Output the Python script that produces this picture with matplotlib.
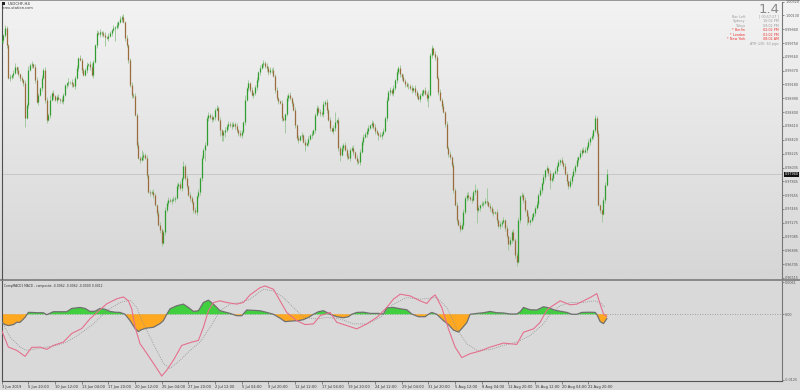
import matplotlib.pyplot as plt
import numpy as np
from matplotlib.colors import LinearSegmentedColormap
from matplotlib.patches import Rectangle
import matplotlib.transforms as mtransforms

# USDCHF H4 closes, 3 Jun 2019 04:00 onwards (one value per bar)
closes = [
    0.9979, 0.9986, 0.9996, 0.9972, 0.9927, 0.9928, 0.9931, 0.9934, 0.9942, 0.9938, 0.9932, 0.9927,
    0.9924, 0.9920, 0.9872, 0.9890, 0.9938, 0.9945, 0.9946, 0.9942, 0.9924, 0.9894, 0.9904, 0.9913,
    0.9927, 0.9938, 0.9897, 0.9869, 0.9876, 0.9897, 0.9906, 0.9902, 0.9897, 0.9901, 0.9898, 0.9897,
    0.9895, 0.9904, 0.9917, 0.9920, 0.9921, 0.9921, 0.9919, 0.9916, 0.9927, 0.9941, 0.9954, 0.9952,
    0.9938, 0.9931, 0.9938, 0.9945, 0.9946, 0.9942, 0.9931, 0.9949, 0.9972, 0.9989, 0.9988, 0.9990,
    0.9989, 0.9986, 0.9983, 0.9982, 0.9985, 0.9989, 0.9993, 0.9996, 0.9997, 1.0000, 1.0004, 1.0008,
    1.0011, 1.0004, 0.9982, 0.9972, 0.9952, 0.9917, 0.9904, 0.9902, 0.9876, 0.9835, 0.9817, 0.9814,
    0.9818, 0.9821, 0.9817, 0.9793, 0.9770, 0.9769, 0.9770, 0.9766, 0.9752, 0.9741, 0.9725, 0.9718,
    0.9700, 0.9715, 0.9745, 0.9755, 0.9759, 0.9758, 0.9759, 0.9760, 0.9762, 0.9778, 0.9781, 0.9775,
    0.9789, 0.9806, 0.9789, 0.9778, 0.9766, 0.9762, 0.9756, 0.9745, 0.9742, 0.9764, 0.9770, 0.9789,
    0.9817, 0.9828, 0.9835, 0.9872, 0.9876, 0.9873, 0.9870, 0.9873, 0.9883, 0.9886, 0.9869, 0.9855,
    0.9848, 0.9853, 0.9855, 0.9861, 0.9864, 0.9862, 0.9861, 0.9864, 0.9861, 0.9855, 0.9851, 0.9848,
    0.9853, 0.9866, 0.9897, 0.9913, 0.9920, 0.9910, 0.9904, 0.9906, 0.9915, 0.9924, 0.9935, 0.9941,
    0.9946, 0.9948, 0.9943, 0.9941, 0.9935, 0.9938, 0.9938, 0.9930, 0.9910, 0.9899, 0.9895, 0.9893,
    0.9872, 0.9869, 0.9877, 0.9899, 0.9904, 0.9899, 0.9893, 0.9883, 0.9862, 0.9844, 0.9842, 0.9847,
    0.9848, 0.9839, 0.9835, 0.9837, 0.9843, 0.9848, 0.9850, 0.9855, 0.9876, 0.9886, 0.9880, 0.9879,
    0.9877, 0.9891, 0.9894, 0.9883, 0.9869, 0.9858, 0.9854, 0.9858, 0.9866, 0.9869, 0.9831, 0.9821,
    0.9831, 0.9835, 0.9828, 0.9820, 0.9817, 0.9828, 0.9831, 0.9825, 0.9817, 0.9813, 0.9811, 0.9825,
    0.9839, 0.9846, 0.9850, 0.9854, 0.9858, 0.9862, 0.9865, 0.9859, 0.9854, 0.9851, 0.9848, 0.9847,
    0.9850, 0.9854, 0.9872, 0.9897, 0.9908, 0.9910, 0.9906, 0.9913, 0.9924, 0.9935, 0.9941, 0.9932,
    0.9928, 0.9923, 0.9919, 0.9916, 0.9916, 0.9913, 0.9910, 0.9913, 0.9908, 0.9902, 0.9898, 0.9904,
    0.9906, 0.9910, 0.9905, 0.9899, 0.9904, 0.9959, 0.9968, 0.9960, 0.9956, 0.9927, 0.9908, 0.9897,
    0.9888, 0.9880, 0.9864, 0.9831, 0.9822, 0.9818, 0.9807, 0.9773, 0.9752, 0.9731, 0.9725, 0.9719,
    0.9725, 0.9742, 0.9762, 0.9766, 0.9763, 0.9760, 0.9759, 0.9770, 0.9773, 0.9745, 0.9748, 0.9752,
    0.9753, 0.9755, 0.9758, 0.9756, 0.9751, 0.9748, 0.9742, 0.9741, 0.9742, 0.9731, 0.9723, 0.9726,
    0.9729, 0.9731, 0.9720, 0.9709, 0.9698, 0.9704, 0.9715, 0.9704, 0.9683, 0.9674, 0.9731, 0.9764,
    0.9766, 0.9759, 0.9745, 0.9737, 0.9729, 0.9731, 0.9736, 0.9741, 0.9748, 0.9753, 0.9766, 0.9773,
    0.9782, 0.9791, 0.9800, 0.9803, 0.9796, 0.9786, 0.9789, 0.9796, 0.9799, 0.9806, 0.9811, 0.9814,
    0.9810, 0.9806, 0.9795, 0.9785, 0.9778, 0.9785, 0.9792, 0.9799, 0.9806, 0.9814, 0.9818, 0.9824,
    0.9828, 0.9825, 0.9828, 0.9832, 0.9839, 0.9844, 0.9847, 0.9855, 0.9872, 0.9851, 0.9752, 0.9745,
    0.9740, 0.9759, 0.9780, 0.9794,
]
first_open = 0.9975

# wick lengths beyond the body, one digit per bar, in units of 2 pips
wick_up = ("2121121231" "2111213121" "2211212213" "1211212111" "3121121211"
           "1212311212" "1121211212" "1212121121" "2121521211" "1211221121"
           "2112121213" "1212112121" "2121212112" "1211212121" "1212113121"
           "2112121212" "1212121121" "1212112121" "2121212112" "1212121212"
           "7121212121" "1212121212" "2121211212" "1212121212" "1211212121"
           "2121213121" "2112121212" "1212121212" "2121412121" "2912121212"
           "1212121212" "2121212121" "1212121212" "2121212121" "1212121212"
           "2121212121" "1224")
wick_dn = ("1212121212" "1212612121" "2121212212" "1212121212" "2121212121"
           "1212121212" "2161212191" "2121212121" "1212121212" "1212122121"
           "2121212121" "1212121212" "2181212121" "1444412121" "2121212121"
           "1212121212" "2121212121" "9121212121" "2141212121" "1212121212"
           "2124121212" "1212121212" "2121213121" "1212121212" "2121212121"
           "1212126121" "2121212121" "1212121212" "2121291212" "1212121212"
           "2121412123" "1212161212" "2121212126" "1212121212" "2121212121"
           "1212121212" "6121")
wick_unit = 0.0002

last_price = 0.97940
price_ticks = [1.00320, 1.00130, 0.99940, 0.99750, 0.99560, 0.99370, 0.99180, 0.98990,
               0.98800, 0.98610, 0.98420, 0.98225, 0.98035, 0.97845, 0.97655, 0.97465,
               0.97275, 0.97085, 0.96895, 0.96705, 0.96515]

time_labels = ["3 Jun 2019", "5 Jun 20:00", "10 Jun 12:00", "13 Jun 04:00", "17 Jun 20:00",
               "20 Jun 12:00", "25 Jun 04:00", "27 Jun 20:00", "2 Jul 12:00", "5 Jul 04:00",
               "9 Jul 20:00", "12 Jul 12:00", "17 Jul 04:00", "19 Jul 20:00", "24 Jul 12:00",
               "29 Jul 04:00", "31 Jul 20:00", "5 Aug 12:00", "8 Aug 04:00", "12 Aug 20:00",
               "15 Aug 12:00", "20 Aug 04:00", "22 Aug 20:00"]
bars_per_label = 16

# CompMACD1 histogram (bar index, value)
hist_idx = [0, 2, 4, 7, 9, 11, 14, 16, 18, 21, 25, 27, 31, 35, 39, 42, 47, 50, 53, 56, 59, 62,
            65, 68, 71, 74, 77, 80, 82, 84, 87, 91, 95, 97, 99, 101, 105, 109, 112, 115, 118,
            121, 124, 127, 131, 137, 141, 144, 147, 152, 155, 159, 163, 167, 170, 173, 178,
            181, 184, 187, 190, 193, 195, 197, 201, 205, 208, 210, 213, 217, 221, 226, 229,
            231, 235, 239, 243, 246, 250, 254, 256, 258, 261, 265, 268, 271, 274, 276, 279,
            281, 285, 289, 293, 297, 301, 305, 309, 311, 313, 317, 321, 325, 328, 332, 335,
            339, 342, 345, 348, 353, 356, 357, 359, 361, 363]
hist_val = [-0.00154, -0.00197, -0.00216, -0.00197, -0.00154, -0.00154, -0.00059, 0.00036,
            0.00036, 0.00030, 0.00030, -0.00008, 0.00049, 0.00049, 0.00049, 0.00112, 0.00131,
            0.00112, 0.00055, 0.00059, 0.00112, 0.00097, 0.00055, 0.00040, 0.00036, 0.0,
            -0.00121, -0.00273, -0.00330, -0.00292, -0.00264, -0.00249, -0.00178, -0.00121,
            0.0, 0.00106, 0.00163, 0.00195, 0.00131, 0.00055, 0.00068, 0.00226, 0.00271,
            0.00195, 0.00068, 0.00017, -0.00027, -0.00027, 0.00082, 0.00074, 0.00068, 0.00036,
            0.0, -0.00074, -0.00140, -0.00131, -0.00121, -0.00102, -0.00059, 0.0, 0.00049,
            0.00068, 0.00036, 0.0, -0.00046, -0.00065, -0.00046, 0.0, 0.00036, 0.00040,
            0.00017, 0.00017, 0.00006, 0.00125, 0.00131, 0.00106, 0.00087, 0.00006, -0.00046,
            -0.00046, 0.0, 0.00036, 0.0, -0.00121, -0.00197, -0.00302, -0.00340, -0.00273,
            -0.00159, 0.0, 0.00017, 0.00030, 0.00055, 0.00030, 0.00025, 0.00006, 0.00006,
            0.00049, 0.00131, 0.00087, 0.00082, 0.00144, 0.00125, 0.00078, 0.00059, 0.00036,
            0.0, 0.0, 0.00036, 0.00040, 0.00036, 0.0, -0.00140, -0.00178, -0.00083]

# composite line (pink)
comp_idx = [0, 4, 9, 14, 18, 23, 27, 31, 37, 42, 48, 53, 59, 63, 69, 73, 76, 78, 80, 83, 87, 91,
            95, 96, 99, 103, 108, 114, 118, 121, 124, 127, 131, 135, 141, 145, 149, 155, 158,
            163, 167, 171, 177, 182, 187, 191, 197, 201, 207, 213, 219, 225, 231, 235, 239,
            245, 251, 255, 258, 260, 264, 268, 272, 276, 281, 287, 293, 301, 309, 313, 319,
            323, 327, 329, 335, 341, 345, 349, 353, 357, 359, 361, 363]
comp_val = [-0.00311, -0.00628, -0.00691, -0.00805, -0.00634, -0.00628, -0.00672, -0.00596,
            -0.00533, -0.00368, -0.00273, -0.00084, 0.00087, 0.00201, 0.00296, 0.00333,
            0.00258, 0.00106, -0.00249, -0.00564, -0.00748, -0.00938, -0.01133, -0.01184,
            -0.01070, -0.00881, -0.00596, -0.00533, -0.00501, -0.00249, 0.00068, 0.00226,
            0.00258, 0.00226, 0.00195, 0.00226, 0.00372, 0.00511, 0.00543, 0.00480, 0.00258,
            0.00036, -0.00121, -0.00197, -0.00184, -0.00027, 0.00036, -0.00154, -0.00216,
            -0.00279, -0.00184, -0.00059, 0.00131, 0.00290, 0.00385, 0.00353, 0.00258,
            0.00207, 0.00321, 0.00372, 0.00131, -0.00279, -0.00628, -0.00829, -0.00754,
            -0.00704, -0.00628, -0.00552, -0.00577, -0.00344, -0.00279, -0.00154, 0.00082,
            0.00131, 0.00258, 0.00182, 0.00195, 0.00258, 0.00321, 0.00397, 0.00195, 0.00006,
            -0.00040]

# signal line (dotted)
sig_idx = [0, 5, 11, 15, 21, 27, 33, 39, 47, 55, 63, 71, 77, 81, 85, 91, 97, 101, 107, 113, 119,
           125, 131, 137, 143, 149, 157, 163, 169, 175, 181, 189, 195, 203, 211, 219, 227, 235,
           243, 251, 261, 267, 273, 279, 285, 293, 301, 309, 317, 325, 329, 335, 341, 349, 355,
           359, 362]
sig_val = [-0.00121, -0.00438, -0.00628, -0.00691, -0.00659, -0.00628, -0.00596, -0.00533,
           -0.00374, -0.00184, 0.00068, 0.00226, 0.00271, 0.00131, -0.00184, -0.00564,
           -0.00943, -0.01038, -0.00881, -0.00691, -0.00533, -0.00249, 0.00068, 0.00195,
           0.00226, 0.00290, 0.00480, 0.00448, 0.00321, 0.00131, -0.00059, -0.00089,
           -0.00059, -0.00089, -0.00184, -0.00184, -0.00059, 0.00195, 0.00321, 0.00290,
           0.00321, 0.00131, -0.00279, -0.00564, -0.00691, -0.00678, -0.00596, -0.00533,
           -0.00406, -0.00184, 0.00006, 0.00163, 0.00226, 0.00226, 0.00258, 0.00226, 0.00131]

info_labels = ["Bar Left", "Sydney", "Tokyo", "* Berlin", "* London", "* New York"]
info_values = ["[ 00:57:27 ]", "10:02 PM", "09:02 PM", "02:02 PM", "01:02 PM", "08:02 AM"]
info_red = [False, False, False, True, True, True]

W, H = 800, 390
fig = plt.figure(figsize=(8, 3.9), dpi=100)


def fx(p):
    return p / W


def fy(p):
    return 1 - p / H


# window background: light gradient over the price window, flat grey under it
bg = fig.add_axes([0, 0, 1, 1], zorder=0)
bg.set_xlim(0, 1)
bg.set_ylim(0, 1)
bg.axis('off')
cm = LinearSegmentedColormap.from_list('bg', ['#f3f3f3', '#d6d6d6'])
bg.imshow(np.linspace(0, 1, 256).reshape(-1, 1), cmap=cm, aspect='auto',
          extent=[0, 1, fy(279), 1], origin='upper')
bg.add_patch(Rectangle((0, 0), 1, fy(279), color='#d9d9d9', lw=0))
bg.add_patch(Rectangle((0, fy(281)), 1, 2.5 / H, color='#8a8a8a', lw=0))
bg.add_patch(Rectangle((0, fy(1.2)), 1, 1.2 / H, color='#9a9a9a', lw=0))

n = len(closes)
x = np.arange(n)
c = np.array(closes)
o = np.r_[first_open, c[:-1]]
hi = np.maximum(o, c) + np.array([int(d) for d in wick_up]) * wick_unit
lo = np.minimum(o, c) - np.array([int(d) for d in wick_dn]) * wick_unit
bull = c >= o

xmin = -0.12
xmax = (782 - 1.7) / 1.667
small = 2.4

ax = fig.add_axes([fx(1.5), fy(278.5), fx(780.5), 277 / H], zorder=2)
ax.set_facecolor('none')
ax.axhline(last_price, color='#c4c4c4', lw=0.6, zorder=1)
ax.vlines(x, lo, hi, color='#a3c9a0', lw=0.7, zorder=2)
ax.vlines(x[bull], o[bull], c[bull], color='#2f9e2f', lw=0.9, zorder=3)
ax.vlines(x[~bull], o[~bull], c[~bull], color='#9a6b3c', lw=0.9, zorder=3)
ax.set_xlim(xmin, xmax)
ax.set_ylim(0.96508, 1.00322)
ax.yaxis.tick_right()
ax.set_yticks(price_ticks)
ax.set_yticklabels([f"{p:.5f}" for p in price_ticks])
ax.tick_params(axis='y', direction='out', length=1.5, width=0.5, colors='#666666',
               labelsize=small, pad=0.8, labelcolor='#555555')
ax.set_xticks([])
for s in ['top', 'bottom']:
    ax.spines[s].set_visible(False)
ax.spines['left'].set_color('#505050')
ax.spines['left'].set_linewidth(0.8)
ax.spines['right'].set_color('#777777')
ax.spines['right'].set_linewidth(0.8)

tr = mtransforms.blended_transform_factory(ax.transAxes, ax.transData)
ax.text(1.003, last_price, f"{last_price:.5f}", transform=tr, fontsize=small, color='white',
        va='center', ha='left', zorder=5,
        bbox=dict(boxstyle='square,pad=0.2', fc='#111111', ec='none'))

# MACD sub-window
m = fig.add_axes([fx(1.5), fy(381), fx(780.5), 100 / H], zorder=2)
m.set_facecolor('none')
hx = np.array(hist_idx)
hv = np.array(hist_val)
m.axhline(0, color='#8c8c8c', lw=0.6, ls=(0, (1, 2)), zorder=1)
m.fill_between(hx, 0, hv, where=hv >= 0, interpolate=True, color='#3fcf3f', lw=0, zorder=2)
m.fill_between(hx, 0, hv, where=hv <= 0, interpolate=True, color='#ffa820', lw=0, zorder=2)
m.plot(hx, hv, color='#707070', lw=0.9, zorder=3)
m.plot(sig_idx, sig_val, color='#8e8e8e', lw=0.6, ls=(0, (1, 1.5)), zorder=3)
m.plot(comp_idx, comp_val, color='#e5708e', lw=0.8, zorder=4)
m.set_xlim(xmin, xmax)
m.set_ylim(-0.01278, 0.00638)
m.yaxis.tick_right()
m.set_yticks([0.0061, 0.0, -0.0125])
m.set_yticklabels(["0.0061", "0.00", "-0.0125"])
m.tick_params(axis='y', direction='out', length=1.5, width=0.5, colors='#666666',
              labelsize=small, pad=0.8, labelcolor='#555555')
tick_pos = [i * bars_per_label for i in range(len(time_labels))]
m.set_xticks(tick_pos)
m.set_xticklabels(time_labels, ha='left')
m.tick_params(axis='x', direction='out', length=2, width=0.5, colors='#666666',
              labelsize=2.6, pad=1, labelcolor='#333333')
m.spines['top'].set_visible(False)
m.spines['left'].set_color('#505050')
m.spines['left'].set_linewidth(0.8)
m.spines['right'].set_color('#777777')
m.spines['right'].set_linewidth(0.8)
m.spines['bottom'].set_color('#555555')
m.spines['bottom'].set_linewidth(0.8)
m.text(0.003, 0.955, "CompMACD1 MACD - composite -0.0062 -0.0062 -0.0000 0.0012",
       transform=m.transAxes, fontsize=2.2, color='#333333', va='center', ha='left')

# top-left symbol caption
fig.add_artist(Rectangle((fx(2), fy(5.2)), 3 / W, 3 / H, transform=fig.transFigure,
                         color='#222222', lw=0, zorder=5))
fig.text(fx(7.5), fy(3.8), "USDCHF,H4", fontsize=2.8, color='#333333', va='center', ha='left')
fig.text(fx(2), fy(7.6), "forex-station.com", fontsize=2.5, color='#333333', va='center',
         ha='left')

# top-right info panel
fig.text(fx(780), fy(12.8), "1.4", fontsize=9.5, color='#8a8a8a', va='baseline', ha='right')
for k, (lab, val, red) in enumerate(zip(info_labels, info_values, info_red)):
    yy = fy(16.6 + k * 4.5)
    col = '#ee3333' if red else '#9a9a9a'
    fig.text(fx(745), yy, lab, fontsize=2.4, color=col, va='center', ha='right')
    fig.text(fx(779), yy, val, fontsize=2.4, color=col, va='center', ha='right')
fig.text(fx(779), fy(43.6), "ATR (20): 63 pips", fontsize=2.4, color='#9a9a9a', va='center',
         ha='right')

fig.savefig('out.png', dpi=100)
